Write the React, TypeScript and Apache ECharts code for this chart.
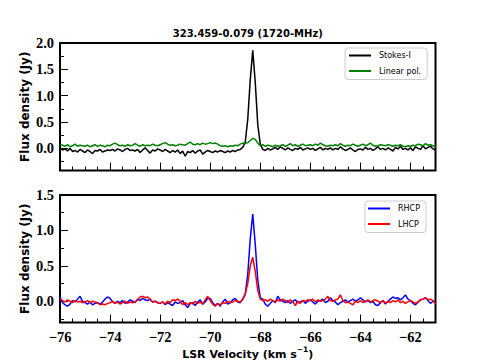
import React, { useEffect, useRef } from 'react';
import * as echarts from 'echarts';

const VELOCITY = [
  -76.0, -75.9, -75.8, -75.7, -75.6, -75.5, -75.4, -75.3, -75.2, -75.1,
  -75.0, -74.9, -74.8, -74.7, -74.6, -74.5, -74.4, -74.3, -74.2, -74.1,
  -74.0, -73.9, -73.8, -73.7, -73.6, -73.5, -73.4, -73.3, -73.2, -73.1,
  -73.0, -72.9, -72.8, -72.7, -72.6, -72.5, -72.4, -72.3, -72.2, -72.1,
  -72.0, -71.9, -71.8, -71.7, -71.6, -71.5, -71.4, -71.3, -71.2, -71.1,
  -71.0, -70.9, -70.8, -70.7, -70.6, -70.5, -70.4, -70.3, -70.2, -70.1,
  -70.0, -69.9, -69.8, -69.7, -69.6, -69.5, -69.4, -69.3, -69.2, -69.1,
  -69.0, -68.9, -68.8, -68.7, -68.6, -68.5, -68.4, -68.3, -68.2, -68.1,
  -68.0, -67.9, -67.8, -67.7, -67.6, -67.5, -67.4, -67.3, -67.2, -67.1,
  -67.0, -66.9, -66.8, -66.7, -66.6, -66.5, -66.4, -66.3, -66.2, -66.1,
  -66.0, -65.9, -65.8, -65.7, -65.6, -65.5, -65.4, -65.3, -65.2, -65.1,
  -65.0, -64.9, -64.8, -64.7, -64.6, -64.5, -64.4, -64.3, -64.2, -64.1,
  -64.0, -63.9, -63.8, -63.7, -63.6, -63.5, -63.4, -63.3, -63.2, -63.1,
  -63.0, -62.9, -62.8, -62.7, -62.6, -62.5, -62.4, -62.3, -62.2, -62.1,
  -62.0, -61.9, -61.8, -61.7, -61.6, -61.5, -61.4, -61.3, -61.2, -61.1,
  -61.0,
];

const STOKES_I = [
  0.02, -0.03, -0.01, -0.05, 0.00, -0.06, -0.04, -0.07, -0.02, -0.05,
  -0.08, -0.03, -0.06, -0.10, -0.04, -0.05, -0.02, -0.07, -0.05, -0.03,
  -0.04, -0.02, -0.05, -0.01, -0.03, -0.06, -0.02, 0.00, -0.04, -0.03,
  -0.05, -0.02, -0.08, -0.03, 0.01, -0.04, -0.09, -0.03, -0.05, -0.01,
  -0.03, -0.06, -0.02, -0.05, -0.08, -0.04, -0.07, -0.03, -0.10, -0.05,
  -0.15, -0.06, -0.08, -0.04, -0.09, -0.05, -0.03, -0.11, -0.07, -0.04,
  -0.06, -0.08, -0.05, -0.07, -0.04, -0.06, -0.08, -0.05, -0.07, -0.04,
  -0.06, -0.03, -0.02, 0.02, 0.12, 0.55, 1.30, 1.86, 1.25, 0.45,
  0.08, -0.02, -0.04, 0.00, -0.03, -0.01, 0.02, -0.02, 0.03, 0.00,
  -0.03, 0.01, -0.02, -0.04, 0.00, -0.02, 0.02, -0.03, -0.01, 0.01,
  -0.02, 0.00, -0.04, -0.01, 0.02, -0.03, 0.00, -0.02, 0.01, -0.03,
  0.00, -0.02, 0.03, -0.01, -0.04, -0.02, 0.01, -0.03, -0.06, -0.02,
  -0.01, -0.03, 0.02, -0.02, 0.00, -0.04, -0.01, 0.03, -0.02, 0.00,
  -0.03, 0.01, -0.02, -0.05, 0.02, -0.01, 0.04, -0.02, 0.00, -0.03,
  0.01, -0.04, 0.03, 0.00, -0.02, 0.05, -0.01, 0.02, 0.04, -0.01,
  -0.03,
];

const LINEAR_POL = [
  0.08, 0.06, 0.04, 0.07, 0.03, 0.05, 0.08, 0.04, 0.06, 0.05,
  0.04, 0.06, 0.03, 0.05, 0.07, 0.04, 0.06, 0.05, 0.03, 0.06,
  0.05, 0.08, 0.10, 0.07, 0.05, 0.06, 0.04, 0.07, 0.05, 0.06,
  0.09, 0.06, 0.04, 0.07, 0.05, 0.06, 0.05, 0.08, 0.06, 0.05,
  0.07, 0.09, 0.11, 0.08, 0.06, 0.07, 0.05, 0.06, 0.08, 0.07,
  0.06, 0.09, 0.12, 0.08, 0.07, 0.09, 0.07, 0.10, 0.08, 0.09,
  0.11, 0.09, 0.10, 0.08, 0.05, 0.04, 0.05, 0.03, 0.05, 0.04,
  0.06, 0.05, 0.08, 0.10, 0.09, 0.11, 0.15, 0.19, 0.17, 0.10,
  0.05, 0.07, 0.04, 0.06, 0.05, 0.03, 0.06, 0.04, 0.05, 0.07,
  0.04, 0.06, 0.09, 0.05, 0.07, 0.04, 0.06, 0.08, 0.05, 0.06,
  0.07, 0.05, 0.08, 0.06, 0.10, 0.07, 0.05, 0.04, 0.06, 0.05,
  0.07, 0.05, 0.09, 0.06, 0.04, 0.06, 0.05, 0.08, 0.06, 0.04,
  0.06, 0.08, 0.05, 0.07, 0.10, 0.06, 0.04, 0.05, 0.07, 0.06,
  0.05, 0.07, 0.06, 0.04, 0.06, 0.05, 0.07, 0.04, 0.03, 0.05,
  0.04, 0.06, 0.05, 0.08, 0.07, 0.05, 0.09, 0.06, 0.07, 0.05,
  0.02,
];

const RHCP = [
  0.06, -0.02, -0.05, -0.07, -0.04, 0.01, -0.01, 0.03, 0.07, 0.00,
  -0.02, -0.04, -0.01, -0.05, -0.03, -0.02, -0.04, -0.01, 0.03, 0.06,
  0.04, -0.01, -0.03, 0.00, -0.02, 0.01, -0.03, -0.01, 0.02, 0.00,
  -0.02, 0.03, 0.01, 0.04, 0.02, 0.01, 0.03, -0.01, 0.00, -0.02,
  -0.03, -0.01, -0.05, -0.02, -0.04, -0.06, -0.01, -0.03, -0.02, 0.01,
  -0.05, -0.09, -0.03, -0.02, -0.06, -0.01, 0.02, -0.04, -0.01, 0.04,
  0.04, -0.02, -0.06, -0.03, -0.07, -0.01, 0.03, -0.04, -0.02, 0.02,
  0.04, -0.01, -0.02, 0.03, 0.10, 0.38, 0.88, 1.23, 0.80, 0.30,
  0.05, 0.03, -0.04, -0.07, -0.03, 0.01, -0.02, 0.07, 0.02, 0.00,
  -0.02, 0.01, -0.03, 0.00, 0.02, -0.02, -0.01, 0.01, -0.03, 0.00,
  0.02, -0.01, -0.04, 0.00, 0.01, 0.03, -0.02, 0.00, 0.05, 0.01,
  -0.01, -0.05, -0.02, 0.00, 0.02, -0.01, 0.01, 0.03, 0.00, 0.02,
  0.05, 0.02, -0.01, 0.01, -0.02, 0.00, -0.05, -0.06, -0.02, 0.01,
  -0.04, 0.00, 0.03, 0.06, 0.04, 0.05, 0.02, 0.05, 0.09, 0.03,
  0.01, -0.03, -0.05, -0.01, 0.02, 0.03, 0.05, 0.01, -0.03, 0.00,
  0.00,
];

const LHCP = [
  0.03, 0.01, -0.01, 0.02, 0.00, -0.02, 0.01, -0.01, 0.00, -0.02,
  -0.01, 0.01, -0.02, 0.00, -0.01, -0.02, -0.05, -0.04, -0.05, -0.03,
  -0.02, 0.00, -0.03, -0.01, -0.04, -0.02, 0.00, -0.03, -0.01, -0.02,
  -0.01, 0.02, 0.06, 0.07, 0.05, 0.06, 0.03, -0.01, 0.00, -0.02,
  -0.03, -0.01, -0.04, 0.00, -0.02, 0.02, 0.01, 0.03, 0.00, -0.05,
  -0.02, -0.05, -0.02, -0.04, 0.00, -0.03, -0.01, -0.04, 0.02, 0.07,
  0.01, -0.04, -0.07, -0.03, -0.05, -0.02, -0.03, 0.00, -0.02, -0.01,
  0.01, 0.00, -0.01, 0.03, 0.10, 0.25, 0.50, 0.62, 0.42, 0.15,
  0.03, 0.01, 0.02, 0.00, 0.03, 0.01, -0.01, 0.02, 0.00, 0.03,
  0.01, -0.02, 0.02, -0.01, -0.06, 0.00, -0.03, 0.01, 0.00, 0.02,
  0.01, 0.03, -0.01, 0.02, 0.00, 0.01, 0.03, 0.07, 0.01, 0.00,
  0.02, 0.03, 0.09, 0.01, -0.02, -0.01, -0.03, -0.05, 0.00, -0.02,
  0.01, -0.02, 0.00, 0.02, -0.01, 0.01, 0.02, 0.00, -0.02, 0.01,
  -0.03, 0.00, -0.02, 0.01, -0.01, 0.02, -0.02, 0.00, -0.03, -0.01,
  0.01, -0.01, -0.03, -0.01, 0.02, 0.03, 0.05, 0.02, 0.03, 0.01,
  -0.04,
];

const X_MAJOR_TICKS = [-76, -74, -72, -70, -68, -66, -64, -62];
const X_MINOR_TICKS = [
  -75.5, -75, -74.5, -73.5, -73, -72.5, -71.5, -71, -70.5, -69.5, -69,
  -68.5, -67.5, -67, -66.5, -65.5, -65, -64.5, -63.5, -63, -62.5, -61.5,
];
const TOP_Y_MAJOR = [0, 0.5, 1.0, 1.5, 2.0];
const TOP_Y_MINOR = [-0.25, 0.25, 0.75, 1.25, 1.75];
const BOTTOM_Y_MAJOR = [0, 0.5, 1.0, 1.5];
const BOTTOM_Y_MINOR = [-0.25, 0.25, 0.75, 1.25];

const TITLE = '323.459-0.079 (1720-MHz)';
const Y_LABEL = 'Flux density (Jy)';
const X_LABEL_MAIN = 'LSR Velocity (km s';
const X_LABEL_SUP = '\u22121';
const X_LABEL_END = ')';

const GRID_LEFT = 60;
const GRID_WIDTH = 375.5;
const GRID_HEIGHT = 127.5;
const TOP_GRID_TOP = 43;
const BOTTOM_GRID_TOP = 195;

const TICK_FONT = 'Liberation Serif';
const SANS = 'DejaVu Sans';

function pairs(ys: number[]) {
  return ys.map((y, i) => [VELOCITY[i], y]);
}

function measure(text: string, font: string) {
  const c = document.createElement('canvas').getContext('2d');
  if (!c) return text.length * 6;
  c.font = font;
  return c.measureText(text).width;
}

export default function App() {
  const ref = useRef<HTMLDivElement>(null);

  useEffect(() => {
    if (!ref.current) return;
    const chart = echarts.init(ref.current, undefined, { renderer: 'svg' });

    const tickLabel = {
      fontFamily: TICK_FONT,
      fontWeight: 'bold',
      fontSize: 14.5,
      color: '#000',
    };

    const xMajor = (grid: number, labels: boolean) => ({
      type: 'value',
      gridIndex: grid,
      position: 'bottom',
      offset: 0,
      min: -76,
      max: -61,
      axisLine: { show: false, onZero: false },
      splitLine: { show: false },
      axisTick: {
        show: true,
        inside: true,
        length: 8,
        customValues: X_MAJOR_TICKS,
        lineStyle: { color: '#000', width: 1 },
      },
      axisLabel: {
        show: labels,
        customValues: X_MAJOR_TICKS,
        margin: 7,
        ...tickLabel,
        formatter: (v: number) => (v < 0 ? '\u2212' + Math.abs(v) : String(v)),
      },
    });
    const xMinor = (grid: number) => ({
      type: 'value',
      gridIndex: grid,
      position: 'bottom',
      offset: 0,
      min: -76,
      max: -61,
      axisLine: { show: false, onZero: false },
      splitLine: { show: false },
      axisLabel: { show: false },
      axisTick: {
        show: true,
        inside: true,
        length: 4,
        customValues: X_MINOR_TICKS,
        lineStyle: { color: '#000', width: 1 },
      },
    });
    const yMajor = (grid: number, min: number, max: number, ticks: number[]) => ({
      type: 'value',
      gridIndex: grid,
      position: 'left',
      offset: 0,
      min,
      max,
      axisLine: { show: false, onZero: false },
      splitLine: { show: false },
      axisTick: {
        show: true,
        inside: true,
        length: 8,
        customValues: ticks,
        lineStyle: { color: '#000', width: 1 },
      },
      axisLabel: {
        show: true,
        customValues: ticks,
        margin: 6,
        ...tickLabel,
        formatter: (v: number) => v.toFixed(1),
      },
    });
    const yMinor = (grid: number, min: number, max: number, ticks: number[]) => ({
      type: 'value',
      gridIndex: grid,
      position: 'left',
      offset: 0,
      min,
      max,
      axisLine: { show: false, onZero: false },
      splitLine: { show: false },
      axisLabel: { show: false },
      axisTick: {
        show: true,
        inside: true,
        length: 4,
        customValues: ticks,
        lineStyle: { color: '#000', width: 1 },
      },
    });

    const legendCommon = {
      orient: 'vertical',
      itemWidth: 22,
      itemHeight: 2,
      icon: 'rect',
      itemGap: 5.5,
      borderColor: '#cccccc',
      borderWidth: 1,
      borderRadius: 3,
      backgroundColor: '#ffffff',
      selectedMode: false,
      textStyle: {
        fontFamily: SANS,
        fontSize: 8,
        color: '#000',
        lineHeight: 10,
        padding: [0, 0, 0, 3],
      },
    };

    const mainFont = `bold 11px "${SANS}"`;
    const supFont = `bold 7.5px "${SANS}"`;
    const w1 = measure(X_LABEL_MAIN, mainFont);
    const ws = measure(X_LABEL_SUP, supFont);
    const w2 = measure(X_LABEL_END, mainFont);
    const centerX = GRID_LEFT + GRID_WIDTH / 2;
    const x0 = centerX - (w1 + ws + w2) / 2;

    const line = (name: string, color: string, data: number[], grid: number) => ({
      name,
      type: 'line',
      xAxisIndex: grid * 2,
      yAxisIndex: grid * 2,
      data: pairs(data),
      showSymbol: false,
      symbol: 'none',
      color,
      itemStyle: { color },
      lineStyle: { color, width: 1.5 },
      clip: true,
    });

    chart.setOption({
      animation: false,
      backgroundColor: '#ffffff',
      grid: [
        {
          left: GRID_LEFT, top: TOP_GRID_TOP, width: GRID_WIDTH, height: GRID_HEIGHT,
          show: true, borderColor: '#000', borderWidth: 2, backgroundColor: 'transparent',
        },
        {
          left: GRID_LEFT, top: BOTTOM_GRID_TOP, width: GRID_WIDTH, height: GRID_HEIGHT,
          show: true, borderColor: '#000', borderWidth: 2, backgroundColor: 'transparent',
        },
      ],
      xAxis: [xMajor(0, false), xMinor(0), xMajor(1, true), xMinor(1)],
      yAxis: [
        yMajor(0, -0.42, 2.0, TOP_Y_MAJOR),
        yMinor(0, -0.42, 2.0, TOP_Y_MINOR),
        yMajor(1, -0.3, 1.5, BOTTOM_Y_MAJOR),
        yMinor(1, -0.3, 1.5, BOTTOM_Y_MINOR),
      ],
      legend: [
        { ...legendCommon, data: ['Stokes-I', 'Linear pol.'], left: 345, top: 48, padding: [2.5, 6, 3.5, 4] },
        { ...legendCommon, data: ['RHCP', 'LHCP'], left: 365, top: 201, padding: [2.5, 6, 3.5, 3] },
      ],
      series: [
        line('Stokes-I', '#000000', STOKES_I, 0),
        line('Linear pol.', '#008000', LINEAR_POL, 0),
        line('RHCP', '#0000ff', RHCP, 1),
        line('LHCP', '#ff0000', LHCP, 1),
      ],
      graphic: [
        {
          type: 'text', x: centerX, y: 33,
          style: { text: TITLE, align: 'center', verticalAlign: 'middle', fontFamily: SANS, fontWeight: 'bold', fontSize: 10, fill: '#000' },
        },
        {
          type: 'text', x: 25, y: TOP_GRID_TOP + GRID_HEIGHT / 2, rotation: Math.PI / 2,
          style: { text: Y_LABEL, align: 'center', verticalAlign: 'middle', fontFamily: SANS, fontWeight: 'bold', fontSize: 12, fill: '#000' },
        },
        {
          type: 'text', x: 25, y: BOTTOM_GRID_TOP + GRID_HEIGHT / 2, rotation: Math.PI / 2,
          style: { text: Y_LABEL, align: 'center', verticalAlign: 'middle', fontFamily: SANS, fontWeight: 'bold', fontSize: 12, fill: '#000' },
        },
        {
          type: 'text', x: x0, y: 354,
          style: { text: X_LABEL_MAIN, align: 'left', verticalAlign: 'middle', fontFamily: SANS, fontWeight: 'bold', fontSize: 11, fill: '#000' },
        },
        {
          type: 'text', x: x0 + w1, y: 349,
          style: { text: X_LABEL_SUP, align: 'left', verticalAlign: 'middle', fontFamily: SANS, fontWeight: 'bold', fontSize: 7.5, fill: '#000' },
        },
        {
          type: 'text', x: x0 + w1 + ws, y: 354,
          style: { text: X_LABEL_END, align: 'left', verticalAlign: 'middle', fontFamily: SANS, fontWeight: 'bold', fontSize: 11, fill: '#000' },
        },
      ],
    });

    return () => chart.dispose();
  }, []);

  return (
    <div
      ref={ref}
      style={{ position: 'absolute', left: 0, top: 0, width: 484, height: 363, background: '#fff' }}
    />
  );
}
